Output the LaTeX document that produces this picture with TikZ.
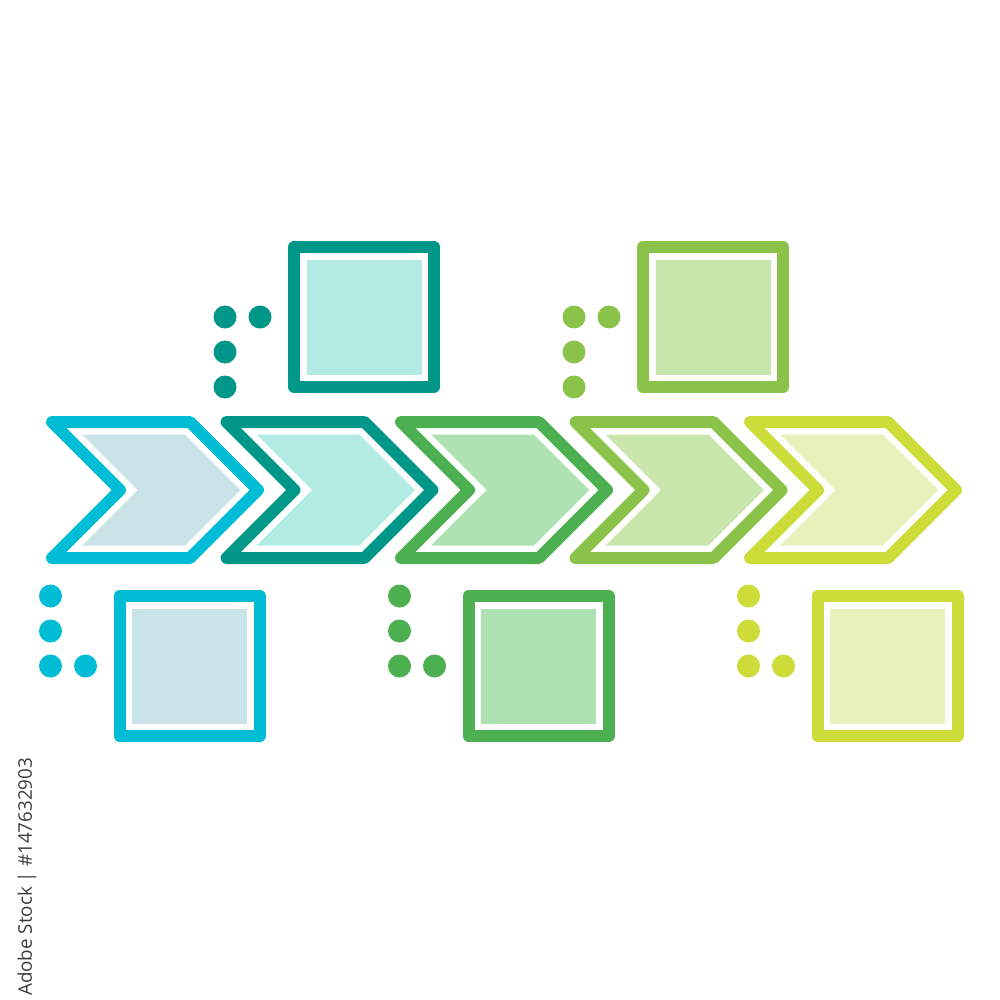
\documentclass[tikz,border=0pt]{standalone}
\usepackage{fontspec}
\setmainfont{Open Sans}
\definecolor{cA}{HTML}{00BCD4}\definecolor{fA}{HTML}{C9E3E8}
\definecolor{cB}{HTML}{009688}\definecolor{fB}{HTML}{B2EBE4}
\definecolor{cC}{HTML}{4CAF50}\definecolor{fC}{HTML}{AEE2B3}
\definecolor{cD}{HTML}{8BC34A}\definecolor{fD}{HTML}{C8E6AC}
\definecolor{cE}{HTML}{CDDC39}\definecolor{fE}{HTML}{E8F0BC}
\definecolor{wmgray}{HTML}{3C3C3C}
\tikzset{
  outline/.style={line width=12pt, line join=round},
  pics/chev/.style n args={2}{code={
    \fill[#2] (30.2,-55.5) -- (132.8,-55.5) -- (188.3,0) -- (132.8,55.5) -- (30.2,55.5) -- (85.7,0) -- cycle;
    \draw[outline, draw=#1] (0,-68) -- (138,-68) -- (206,0) -- (138,68) -- (0,68) -- (68,0) -- cycle;
  }},
  pics/sq/.style n args={2}{code={
    \fill[#2] (-57.5,-57.5) rectangle (57.5,57.5);
    \draw[outline, draw=#1] (-70,-70) rectangle (70,70);
  }},
  pics/dotsup/.style={code={
    \fill[#1] (-139,0) circle (11.5) (-104,0) circle (11.5) (-139,35) circle (11.5) (-139,70) circle (11.5);
  }},
  pics/dotsdown/.style={code={
    \fill[#1] (-139,-70) circle (11.5) (-139,-35) circle (11.5) (-139,0) circle (11.5) (-104,0) circle (11.5);
  }},
  stamp/.style={rotate=90, anchor=west, text=wmgray, inner sep=0pt, font=\fontsize{18.8}{19}\selectfont}
}
\begin{document}
\begin{tikzpicture}[x=1pt,y=-1pt]
\useasboundingbox (0,0) rectangle (1000,1000);
% chevrons
\pic (ch1) at (52,490) {chev={cA}{fA}};
\pic (ch2) at (226.5,490) {chev={cB}{fB}};
\pic (ch3) at (401,490) {chev={cC}{fC}};
\pic (ch4) at (575.5,490) {chev={cD}{fD}};
\pic (ch5) at (750,490) {chev={cE}{fE}};
% top squares
\pic (sqB) at (364,317) {sq={cB}{fB}};
\pic (dtB) at (364,317) {dotsup=cB};
\pic (sqD) at (713,317) {sq={cD}{fD}};
\pic (dtD) at (713,317) {dotsup=cD};
% bottom squares
\pic (sqA) at (189.5,666) {sq={cA}{fA}};
\pic (dtA) at (189.5,666) {dotsdown=cA};
\pic (sqC) at (538.5,666) {sq={cC}{fC}};
\pic (dtC) at (538.5,666) {dotsdown=cC};
\pic (sqE) at (887.5,666) {sq={cE}{fE}};
\pic (dtE) at (887.5,666) {dotsdown=cE};
% stock id
\node[stamp] (id) at (27,996) {Adobe Stock | \#147632903};
\end{tikzpicture}
\end{document}
